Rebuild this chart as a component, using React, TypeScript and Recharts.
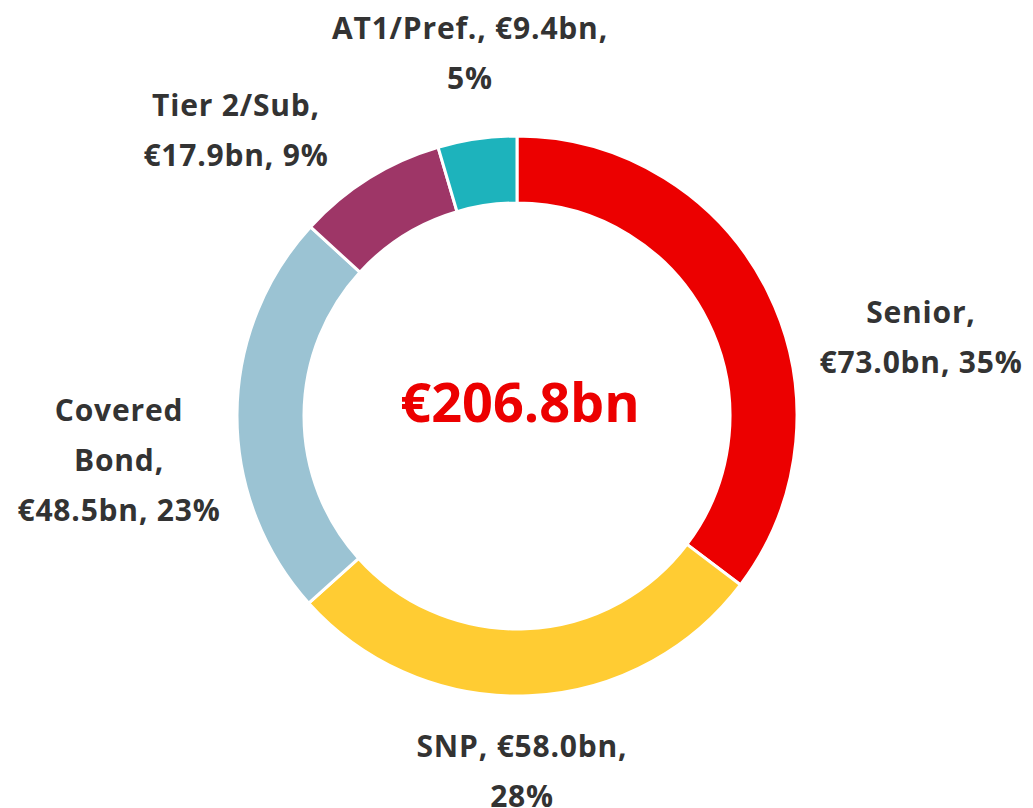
import React from 'react';
import { PieChart, Pie, Cell } from 'recharts';

const categories = ['Senior', 'SNP', 'Covered Bond', 'Tier 2/Sub', 'AT1/Pref.'];
const amounts = [73.0, 58.0, 48.5, 17.9, 9.4];
const labelLines = [
  ['Senior,', '€73.0bn, 35%'],
  ['SNP, €58.0bn,', '28%'],
  ['Covered', 'Bond,', '€48.5bn, 23%'],
  ['Tier 2/Sub,', '€17.9bn, 9%'],
  ['AT1/Pref., €9.4bn,', '5%'],
];
const totalLabel = '€206.8bn';

const colors = ['#EC0000', '#FFCC33', '#9BC3D3', '#9E3667', '#1DB3BC'];
// label block centre, relative to the pie centre
const labelOffsets = [
  [404, -80],
  [5, 354],
  [-398, 43],
  [-281, -287],
  [-47, -364],
];

const data = categories.map((name, i) => ({ name, value: amounts[i] }));

const FONT = '"Open Sans", "Noto Sans", sans-serif';
const LINE_H = 50;
const CX = 517;
const CY = 416;

const renderLabel = (props: any) => {
  const { cx, cy, index } = props;
  const lines = labelLines[index];
  const [dx, dy] = labelOffsets[index];
  const top = cy + dy - ((lines.length - 1) * LINE_H) / 2;
  return (
    <text
      key={`lbl-${index}`}
      x={cx + dx}
      y={top}
      textAnchor="middle"
      dominantBaseline="central"
      fill="#333333"
      fontFamily={FONT}
      fontWeight={700}
      fontSize={30}
      letterSpacing={0.8}
    >
      {lines.map((l, i) => (
        <tspan key={i} x={cx + dx} y={top + i * LINE_H}>
          {l}
        </tspan>
      ))}
    </text>
  );
};

export default function App() {
  return (
    <div style={{ position: 'absolute', left: 0, top: 0, width: 1033, height: 808, background: '#fff' }}>
      <PieChart width={1033} height={808} margin={{ top: 0, right: 0, bottom: 0, left: 0 }}>
        <Pie
          data={data}
          dataKey="value"
          nameKey="name"
          cx={CX}
          cy={CY}
          innerRadius={213}
          outerRadius={280}
          startAngle={90}
          endAngle={-270}
          stroke="#ffffff"
          strokeWidth={3}
          label={renderLabel}
          labelLine={false}
          isAnimationActive={false}
        >
          {data.map((d, i) => (
            <Cell key={d.name} fill={colors[i]} />
          ))}
        </Pie>
      </PieChart>
      <div
        style={{
          position: 'absolute',
          left: CX - 200 + 3,
          width: 400,
          top: CY - 50,
          height: 70,
          lineHeight: '70px',
          textAlign: 'center',
          color: '#EC0000',
          fontFamily: FONT,
          fontWeight: 700,
          fontSize: 54,
        }}
      >
        {totalLabel}
      </div>
    </div>
  );
}
